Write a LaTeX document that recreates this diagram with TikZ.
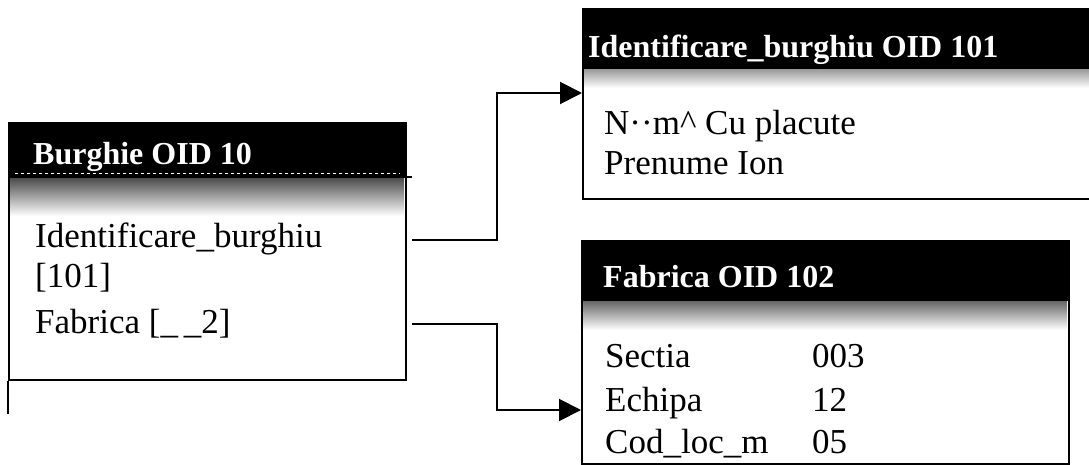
\documentclass[tikz,border=0pt]{standalone}
\usepackage{fontspec}
\setmainfont{Liberation Serif}
\usetikzlibrary{arrows.meta}
\tikzset{
 box/.style={draw, line width=2pt, anchor=north west, inner sep=0pt},
 body/.style={anchor=base west, inner sep=0pt, font=\fontsize{35}{40}\selectfont},
 head/.style={anchor=base west, inner sep=0pt, text=white, font=\bfseries\fontsize{32}{36}\selectfont},
 conn/.style={line width=2pt, -{Triangle[length=22pt,width=22pt]}},
 plain/.style={line width=2pt}
}
\begin{document}
\begin{tikzpicture}[x=1pt,y=-1pt]
\useasboundingbox (0,0) rectangle (1089,465);
% header bands
\fill (8,122) rectangle (405,177);
\shade[top color=black!70, bottom color=white] (9,178) rectangle (404,216);
\draw[white, line width=1pt, dashed] (15,174) -- (400,174);
\draw[plain] (8,177) -- (412,177);

\fill (582,8) rectangle (1095,68);
\shade[top color=black!40, bottom color=white] (583,69) rectangle (1095,88);
\draw[plain] (582,68) -- (1095,68);

\fill (581,240) rectangle (1068,300);
\shade[top color=black!60, bottom color=white] (582,301) rectangle (1067,330);
\draw[plain] (581,300) -- (1068,300);

% boxes
\node[box, minimum width=397pt, minimum height=257pt] (burghie) at (8,122) {};
\node[box, minimum width=515pt, minimum height=190pt] (ident) at (582,8) {};
\node[box, minimum width=487pt, minimum height=223pt] (fabrica) at (581,240) {};
\draw[plain] (burghie.south west) -- ++(0,33);

% headers
\node[head] (h1) at (33,165) {Burghie OID 10};
\node[head] (h2) at (588,58) {Identificare\_burghiu OID 101};
\node[head] (h3) at (603,287) {Fabrica OID 102};

% body texts
\node[body] (t11) at (35,247) {Identificare\_burghiu};
\node[body] (t12) at (35,287) {[101]};
\node[body] (t13) at (35,333) {Fabrica [\_\,\_2]};

\node[body] (t21) at (604,135) {N··m\textasciicircum\ Cu placute};
\node[body] (t22) at (604,175) {Prenume Ion};

\node[body] (t31) at (605,367) {Sectia};
\node[body] (t32) at (605,411) {Echipa};
\node[body] (t33) at (605,453) {Cod\_loc\_m};
\node[body] (v31) at (812,367) {003};
\node[body] (v32) at (812,411) {12};
\node[body] (v33) at (812,453) {05};

% connectors
\coordinate (s1) at (412,240);
\coordinate (s2) at (412,324);
\coordinate (e1) at (582,93);
\coordinate (e2) at (581,410);
\draw[conn] (s1) -- (497,240) |- (e1);
\draw[conn] (s2) -- (497,324) |- (e2);
\end{tikzpicture}
\end{document}
